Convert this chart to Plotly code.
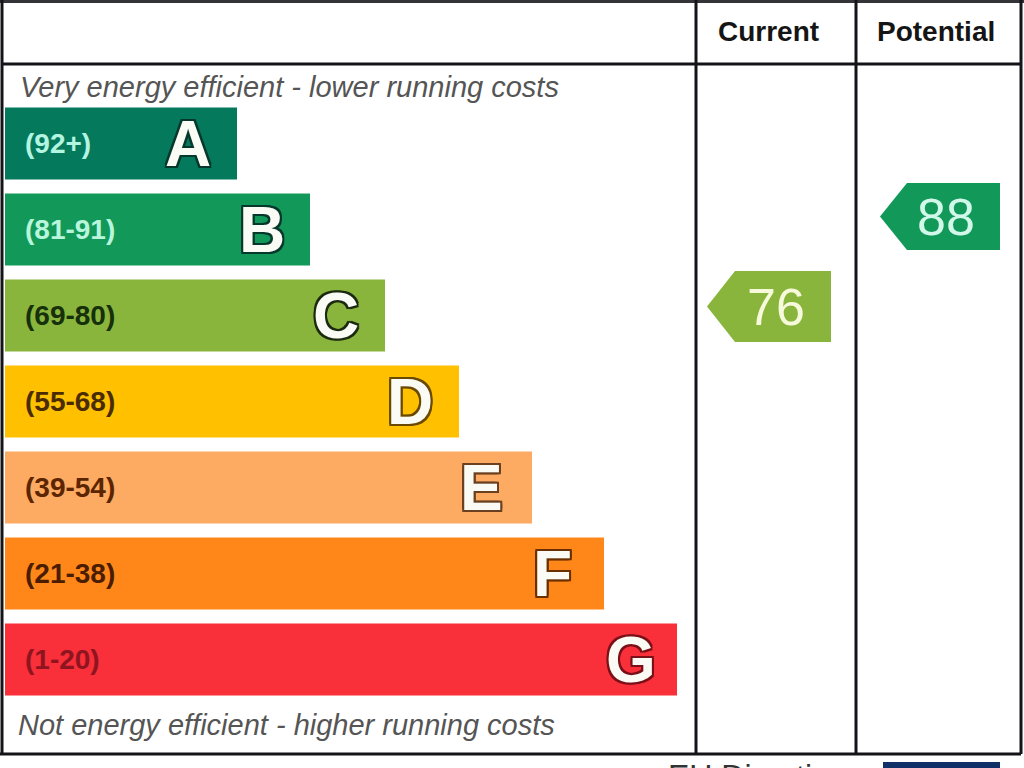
import plotly.graph_objects as go

# EPC band data
bands = ["A", "B", "C", "D", "E", "F", "G"]
band_ranges = ["(92+)", "(81-91)", "(69-80)", "(55-68)", "(39-54)", "(21-38)", "(1-20)"]
band_lengths = [232, 305, 380, 454, 527, 599, 672]

columns = ["Current", "Potential"]
scores = [76, 88]

# colours
band_colors = ["#04795c", "#12995a", "#8ab53c", "#ffc000", "#fdaa62", "#ff8719", "#f92f39"]
range_colors = ["#b4f5e2", "#b8f5dc", "#16300c", "#4a2c00", "#5a2500", "#4a1c00", "#8e1420"]
letter_outline = ["#06382c", "#06382c", "#1c2a10", "#6a4a00", "#6a4020", "#6a3000", "#7a1018"]
tag_colors = ["#8ab53c", "#12995a"]
tag_text_colors = ["#f6fadb", "#d2f8ea"]

W, H = 1024, 768
FONT = "Liberation Sans"


def py(p):
    return 1 - p / H


# rows are 86px apart, first row centred at 143.5px
row_top = -143.5 / 86
row_bottom = (H - 143.5) / 86
# score axis: 88 sits at 216.5px, 76 at 306.5px
pts_per_px = (88 - 76) / (306.5 - 216.5)
score_top = 88 + 216.5 * pts_per_px
score_bottom = 88 - (H - 216.5) * pts_per_px

fig = go.Figure()

fig.add_trace(go.Bar(
    y=bands, x=band_lengths, base=5, orientation="h",
    marker=dict(color=band_colors, line=dict(width=0)),
    width=72 / 86, showlegend=False, hoverinfo="skip",
))

# the arrow tags are built around each score on the score axis
tag_x = [(707, 735, 831), (880, 907, 1000)]
tag_half = [35.5 * pts_per_px, 33.5 * pts_per_px]
for i, score in enumerate(scores):
    tip, shoulder, right = tag_x[i]
    h = tag_half[i]
    fig.add_trace(go.Scatter(
        x=[tip, shoulder, right, right, shoulder, tip],
        y=[score, score + h, score + h, score - h, score - h, score],
        yaxis="y2", mode="lines", fill="toself", fillcolor=tag_colors[i],
        line=dict(width=0), showlegend=False, hoverinfo="skip",
    ))
    fig.add_annotation(
        x=(shoulder + right) / 2 - 7.5, y=score, yref="y2", text=str(score),
        showarrow=False, font=dict(family=FONT, size=52, color=tag_text_colors[i]),
    )

# band range labels and the big outlined letters
letter_centres = [188, 262, 336, 410, 481, 552, 631]
for i, band in enumerate(bands):
    fig.add_annotation(
        x=23, y=band, xanchor="left", text=band_ranges[i], showarrow=False,
        font=dict(family=FONT, size=28, color=range_colors[i], weight="bold"),
    )
    c = letter_outline[i]
    outline = ",".join(f"{a}px {b}px 0 {c}" for a, b in
                       [(-2, 0), (2, 0), (0, -2), (0, 2), (-2, -2), (2, -2), (-2, 2), (2, 2)])
    fig.add_annotation(
        x=letter_centres[i], y=band, text=band, showarrow=False,
        font=dict(family=FONT, size=64, color="#fbfbf5", weight="bold", shadow=outline),
    )

# headers and captions
for name, cx in zip(columns, [768.5, 936]):
    fig.add_annotation(
        x=cx, y=py(32), yref="paper", yanchor="middle", text=name, showarrow=False,
        font=dict(family=FONT, size=28, color="#151515", weight="bold"),
    )
fig.add_annotation(
    x=18, y=py(87), yref="paper", xanchor="left", yanchor="middle", showarrow=False,
    text="Very energy efficient - lower running costs",
    font=dict(family=FONT, size=29, color="#555555", style="italic"),
)
fig.add_annotation(
    x=16, y=py(725), yref="paper", xanchor="left", yanchor="middle", showarrow=False,
    text="Not energy efficient - higher running costs",
    font=dict(family=FONT, size=29, color="#555555", style="italic"),
)
fig.add_annotation(
    x=666, y=py(756), yref="paper", xanchor="left", yanchor="top", showarrow=False,
    text="EU Directive", font=dict(family=FONT, size=32, color="#333333"),
)

frame = dict(type="line", xref="x", yref="paper", line=dict(color="#141418", width=3), layer="above")
shapes = [
    dict(frame, x0=0, x1=W, y0=py(1), y1=py(1), line=dict(color="#333338", width=4)),
    dict(frame, x0=2, x1=2, y0=py(0), y1=py(754)),
    dict(frame, x0=2, x1=1021, y0=py(64), y1=py(64)),
    dict(frame, x0=696, x1=696, y0=py(0), y1=py(754)),
    dict(frame, x0=856, x1=856, y0=py(0), y1=py(754)),
    dict(frame, x0=1021, x1=1021, y0=py(0), y1=py(754)),
    dict(frame, x0=0, x1=1021, y0=py(754), y1=py(754)),
    dict(type="rect", xref="x", yref="paper", x0=883, x1=1000, y0=py(762), y1=py(768),
         fillcolor="#103068", line=dict(width=0)),
]

fig.update_layout(
    width=W, height=H, margin=dict(l=0, r=0, t=0, b=0),
    paper_bgcolor="white", plot_bgcolor="white", showlegend=False,
    xaxis=dict(range=[0, W], visible=False, fixedrange=True),
    yaxis=dict(type="category", categoryorder="array", categoryarray=bands,
               range=[row_bottom, row_top], visible=False, fixedrange=True),
    yaxis2=dict(range=[score_bottom, score_top], overlaying="y", visible=False, fixedrange=True),
    shapes=shapes,
)

fig.write_html("out.html", config={"displayModeBar": False},
               post_script="document.body.style.margin='0';document.body.style.overflow='hidden';")
